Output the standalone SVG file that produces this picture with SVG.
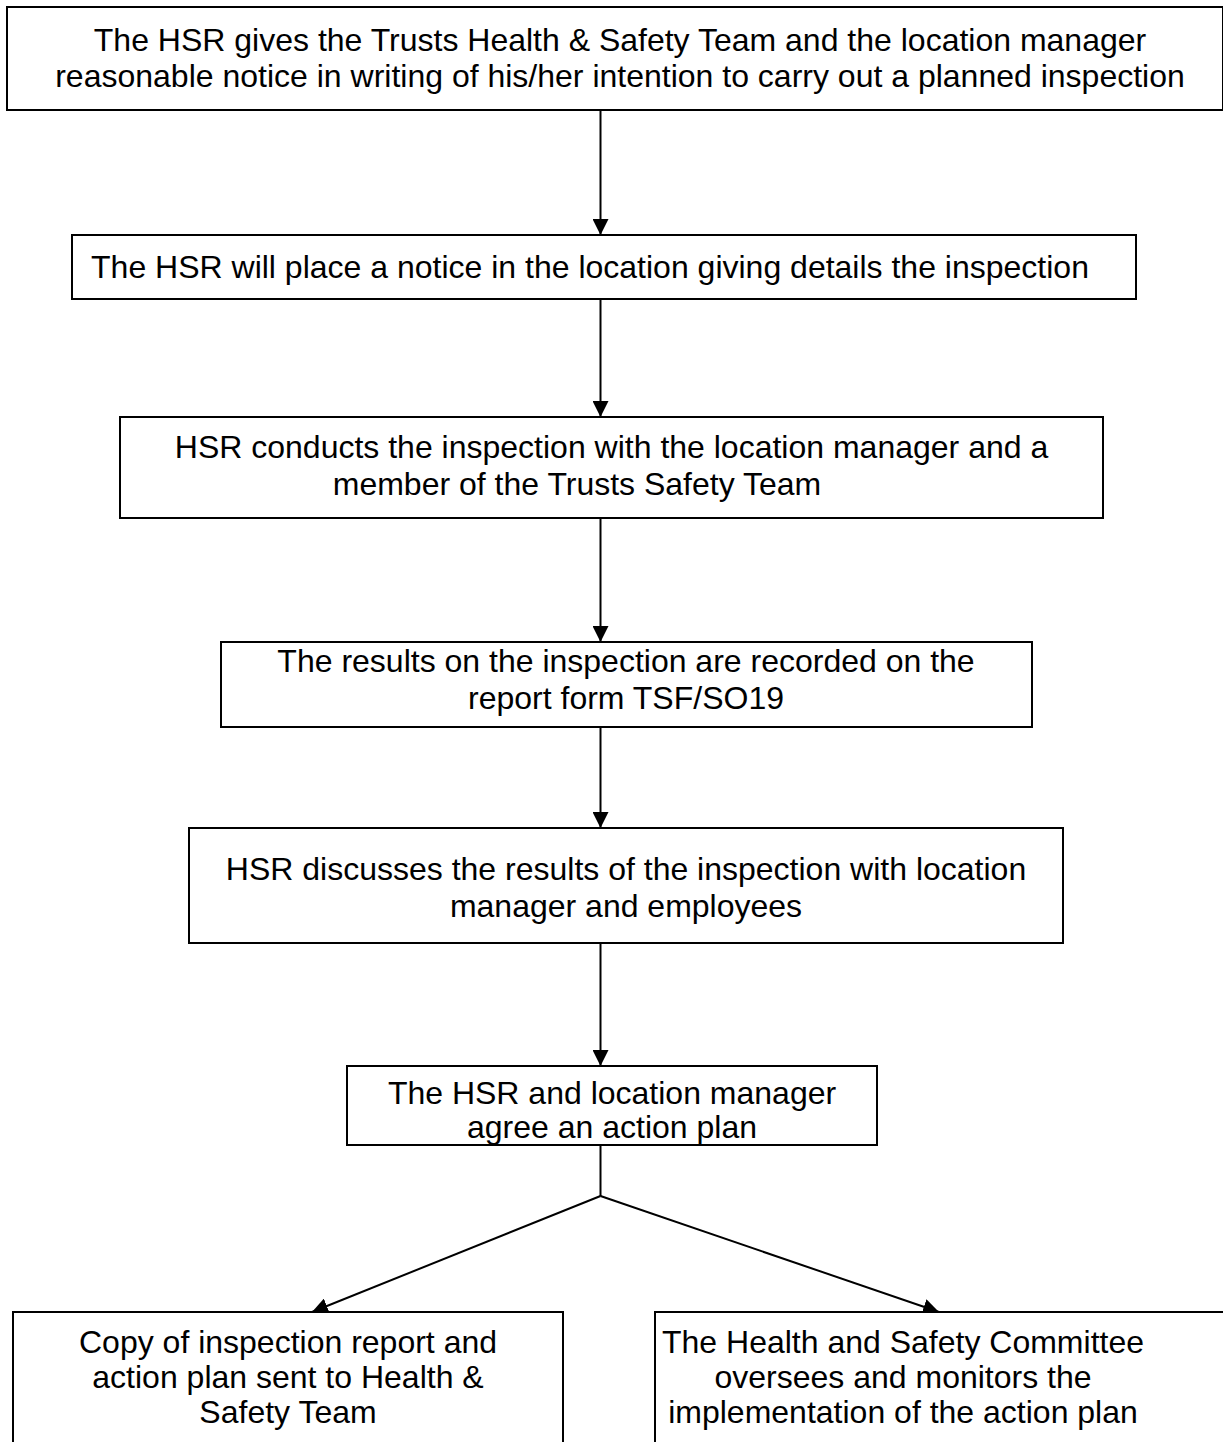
<svg xmlns="http://www.w3.org/2000/svg" width="1223" height="1442" viewBox="0 0 1223 1442">
<style>
.box{fill:#fff;stroke:#000;stroke-width:2}
.t{font-family:"Liberation Sans",Arial,sans-serif;font-size:32px;fill:#000;text-anchor:middle}
.c{stroke:#000;stroke-width:2;fill:none}
</style>
<defs>
<marker id="ah" viewBox="0 0 16 16" refX="16" refY="8" markerWidth="16" markerHeight="16" markerUnits="userSpaceOnUse" orient="auto">
<path d="M0,0 L16,8 L0,16 Z" fill="#000"/>
</marker>
</defs>
<g id="connectors">
<line class="c" x1="600.5" y1="110" x2="600.5" y2="235" marker-end="url(#ah)"/>
<line class="c" x1="600.5" y1="299" x2="600.5" y2="417" marker-end="url(#ah)"/>
<line class="c" x1="600.5" y1="518" x2="600.5" y2="642" marker-end="url(#ah)"/>
<line class="c" x1="600.5" y1="727" x2="600.5" y2="828" marker-end="url(#ah)"/>
<line class="c" x1="600.5" y1="943" x2="600.5" y2="1066" marker-end="url(#ah)"/>
<polyline class="c" points="600.5,1145 600.5,1196"/>
<line class="c" x1="600.5" y1="1196" x2="312" y2="1312" marker-end="url(#ah)"/>
<line class="c" x1="600.5" y1="1196" x2="939" y2="1312" marker-end="url(#ah)"/>
</g>
<g id="n1">
<rect class="box" x="7" y="7" width="1216" height="103"/>
<text class="t" x="620" y="51">The HSR gives the Trusts Health &amp; Safety Team and the location manager</text>
<text class="t" x="620" y="87">reasonable notice in writing of his/her intention to carry out a planned inspection</text>
</g>
<g id="n2">
<rect class="box" x="72" y="235" width="1064" height="64"/>
<text class="t" x="590" y="278">The HSR will place a notice in the location giving details the inspection</text>
</g>
<g id="n3">
<rect class="box" x="120" y="417" width="983" height="101"/>
<text class="t" x="611.5" y="458">HSR conducts the inspection with the location manager and a</text>
<text class="t" x="577" y="495">member of the Trusts Safety Team</text>
</g>
<g id="n4">
<rect class="box" x="221" y="642" width="811" height="85"/>
<text class="t" x="626" y="672">The results on the inspection are recorded on the</text>
<text class="t" x="626" y="709">report form TSF/SO19</text>
</g>
<g id="n5">
<rect class="box" x="189" y="828" width="874" height="115"/>
<text class="t" x="626" y="880">HSR discusses the results of the inspection with location</text>
<text class="t" x="626" y="917">manager and employees</text>
</g>
<g id="n6">
<rect class="box" x="347" y="1066" width="530" height="79"/>
<text class="t" x="612" y="1104">The HSR and location manager</text>
<text class="t" x="612" y="1138">agree an action plan</text>
</g>
<g id="n7">
<path class="box" d="M13,1450 L13,1312 L563,1312 L563,1450"/>
<text class="t" x="288" y="1353">Copy of inspection report and</text>
<text class="t" x="288" y="1388">action plan sent to Health &amp;</text>
<text class="t" x="288" y="1423">Safety Team</text>
</g>
<g id="n8">
<path class="box" d="M655,1450 L655,1312 L1230,1312 L1230,1450"/>
<text class="t" x="903" y="1353">The Health and Safety Committee</text>
<text class="t" x="903" y="1388">oversees and monitors the</text>
<text class="t" x="903" y="1423">implementation of the action plan</text>
</g>
</svg>
